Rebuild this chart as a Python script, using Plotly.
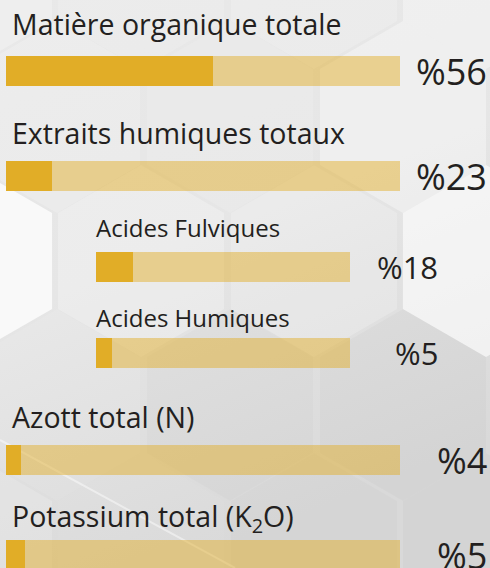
import base64
import plotly.graph_objects as go

# ---------------- data ----------------
labels = [
    "Matière organique totale",
    "Extraits humiques totaux",
    "Acides Fulviques",
    "Acides Humiques",
    "Azott total (N)",
    "Potassium total (K<sub>2</sub>O)",
]
percent_values = [56, 23, 18, 5, 4, 5]          # printed percentages
fill_values = [52.5, 11.7, 14.6, 6.3, 3.8, 4.8]  # filled share of each bar
is_sub = [False, False, True, True, False, False]
track_max = 100

# ---------------- layout constants ----------------
W, H = 490, 568
bar_y = [71, 176, 267, 353, 460, 555]
label_y = [24, 133, 227, 317, 417, 518]
BAR_THICK = 30
DARK = "#E1AD27"
TRACK = "rgba(226,174,40,0.48)"
TXT = "#231f20"
FONT = "Open Sans"

# ---------------- background (hexagon pattern) ----------------
def hexagon(cx, cy, r=96):
    k = 0.866 * r
    pts = [(cx, cy - r), (cx + k, cy - r / 2), (cx + k, cy + r / 2),
           (cx, cy + r), (cx - k, cy + r / 2), (cx - k, cy - r / 2)]
    return " ".join(f"{x:.1f},{y:.1f}" for x, y in pts)

hexes = [
    (-31, -27, "#ffffff", 0.25), (141, -27, "#ffffff", 0.15), (314, -27, "#ffffff", 0.2), (486, -27, "#ffffff", 0.35),
    (57, 117, "#ffffff", 0.2), (230, 117, "#ffffff", 0.12), (403, 117, "#ffffff", 0.35),
    (-31, 261, "#ffffff", 0.75), (141, 261, "#ffffff", 0.25), (314, 261, "#ffffff", 0.2), (486, 261, "#ffffff", 0.6),
    (57, 405, "#ffffff", 0.08), (230, 405, "#000000", 0.015), (403, 405, "#000000", 0.02),
    (-31, 549, "#ffffff", 0.15), (141, 549, "#ffffff", 0.05), (314, 549, "#000000", 0.015), (486, 549, "#000000", 0.02),
]
hex_svg = "".join(
    f'<polygon points="{hexagon(cx, cy)}" fill="{c}" fill-opacity="{o}"/>' for cx, cy, c, o in hexes
)
svg = f'''<svg xmlns="http://www.w3.org/2000/svg" width="{W}" height="{H}" viewBox="0 0 {W} {H}">
<defs><linearGradient id="g" x1="0" y1="0" x2="0.35" y2="1">
<stop offset="0" stop-color="#e9e9e9"/><stop offset="0.5" stop-color="#e6e6e6"/><stop offset="1" stop-color="#d9d9d9"/>
</linearGradient></defs>
<rect width="{W}" height="{H}" fill="url(#g)"/>
{hex_svg}
<line x1="0" y1="440" x2="235" y2="568" stroke="#ffffff" stroke-opacity="0.45" stroke-width="2"/>
</svg>'''
bg_src = "data:image/svg+xml;base64," + base64.b64encode(svg.encode("utf-8")).decode("ascii")

# ---------------- figure ----------------
fig = go.Figure()

main_idx = [i for i, s in enumerate(is_sub) if not s]
sub_idx = [i for i, s in enumerate(is_sub) if s]

for idx, xa in ((main_idx, "x"), (sub_idx, "x2")):
    fig.add_trace(go.Bar(
        orientation="h", y=[bar_y[i] for i in idx], x=[track_max] * len(idx),
        width=BAR_THICK, marker=dict(color=TRACK, line=dict(width=0)),
        xaxis=xa, yaxis="y", hoverinfo="skip", showlegend=False,
    ))
    fig.add_trace(go.Bar(
        orientation="h", y=[bar_y[i] for i in idx], x=[fill_values[i] for i in idx],
        width=BAR_THICK, marker=dict(color=DARK, line=dict(width=0)),
        xaxis=xa, yaxis="y", showlegend=False,
        customdata=[labels[i] for i in idx],
        hovertemplate="%{customdata}<extra></extra>",
    ))

annotations = []
for i in range(len(labels)):
    sub = is_sub[i]
    annotations.append(dict(
        text=labels[i], xref="paper", yref="y",
        x=(94 if sub else 10) / W, y=label_y[i],
        xanchor="left", yanchor="middle", showarrow=False,
        font=dict(family=FONT, size=24 if sub else 28.5, color=TXT),
    ))
    annotations.append(dict(
        text=f"%{percent_values[i]}", xref="paper", yref="y",
        x=(440 if sub else 489) / W, y=bar_y[i],
        xanchor="right", yanchor="middle", showarrow=False,
        font=dict(family=FONT, size=31 if sub else 36, color=TXT),
    ))

axis_common = dict(showgrid=False, zeroline=False, showticklabels=False,
                   showline=False, ticks="", fixedrange=True)
fig.update_layout(
    width=W, height=H,
    margin=dict(l=0, r=0, t=0, b=0),
    paper_bgcolor="#e4e4e4", plot_bgcolor="rgba(0,0,0,0)",
    barmode="overlay", bargap=0,
    xaxis=dict(domain=[6 / W, 400 / W], range=[0, track_max], **axis_common),
    xaxis2=dict(domain=[96 / W, 350 / W], range=[0, track_max], anchor="y", **axis_common),
    yaxis=dict(domain=[0, 1], range=[H, 0], **axis_common),
    annotations=annotations,
    images=[dict(source=bg_src, xref="paper", yref="paper", x=0, y=1,
                 sizex=1, sizey=1, sizing="stretch", layer="below",
                 xanchor="left", yanchor="top")],
    showlegend=False,
)

fig.write_html(
    "out.html",
    config={"displayModeBar": False},
    post_script="document.body.style.margin='0';document.body.style.overflow='hidden';",
)
